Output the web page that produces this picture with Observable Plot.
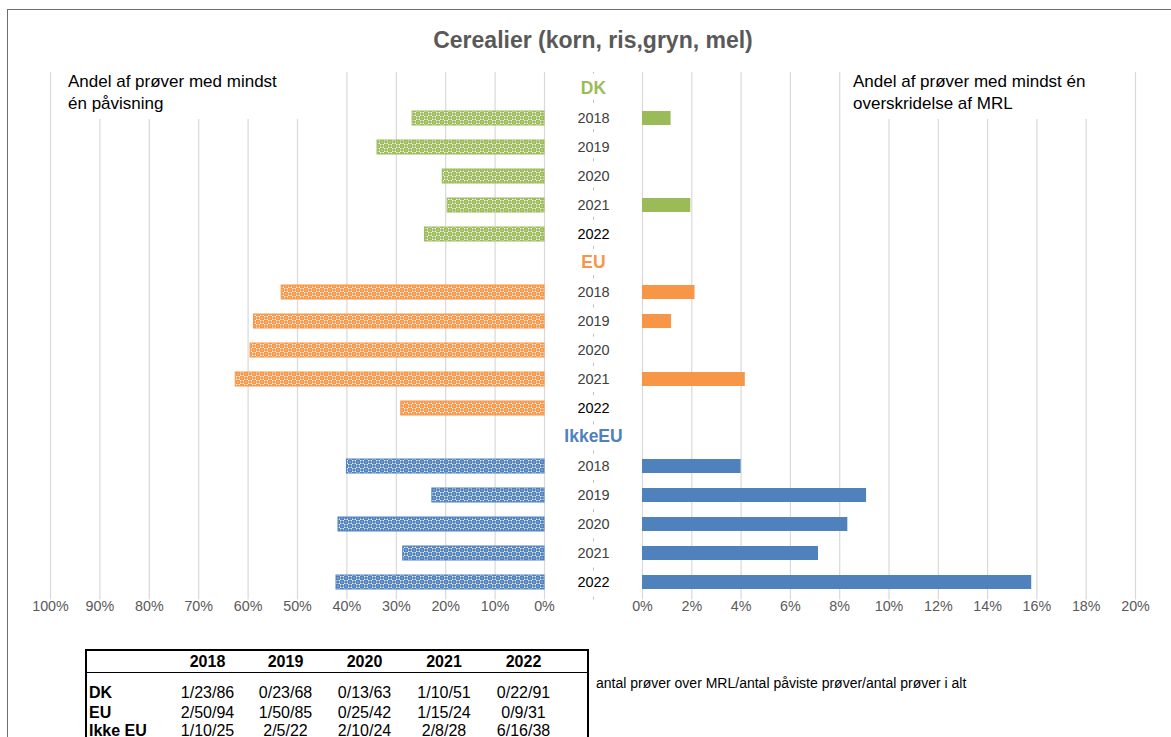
<!DOCTYPE html>
<html><head><meta charset="utf-8">
<script src="https://cdn.jsdelivr.net/npm/d3@7"></script>
<script src="https://cdn.jsdelivr.net/npm/@observablehq/plot@0.6"></script>
<style>
body{margin:0;background:#fff;font-family:"Liberation Sans",Arial,sans-serif;}
#wrap{position:relative;width:1171px;height:737px;overflow:hidden;background:#fff;}
#frame{position:absolute;left:7px;top:9px;width:1200px;height:800px;border-top:1px solid #6e6e6e;border-left:1px solid #6e6e6e;}
#left{position:absolute;left:0;top:0;}
#right{position:absolute;left:580px;top:0;}
#title{position:absolute;left:593px;top:26px;transform:translateX(-50%);white-space:nowrap;font-weight:bold;font-size:23px;line-height:28px;color:#595959;z-index:3;}
.note{position:absolute;background:#fff;font-size:17px;line-height:21.5px;color:#000;z-index:3;padding-left:8px;padding-top:4px;box-sizing:border-box;}
#noteL{left:60px;top:67px;width:252px;height:52px;}
#noteR{left:845px;top:67px;width:265px;height:52px;}
#tbl{position:absolute;left:85px;top:649px;z-index:3;}
#tbl table{border-collapse:collapse;border:2px solid #000;font-size:16px;color:#000;}
#tbl td{padding:0;text-align:center;vertical-align:bottom;white-space:nowrap;}
#tbl tr.h td{font-weight:bold;height:20px;border-bottom:1.5px solid #000;padding-bottom:1px;}
#tbl td.lab{text-align:left;font-weight:bold;padding-left:2px;}
#cap{position:absolute;left:596px;top:675px;font-size:14px;color:#000;white-space:nowrap;z-index:3;}
</style></head><body>
<div id="wrap">
  <div id="frame"></div>
  <div id="left"></div>
  <div id="right"></div>
  <div id="title">Cerealier (korn, ris,gryn, mel)</div>
  <div class="note" id="noteL">Andel af prøver med mindst<br>én påvisning</div>
  <div class="note" id="noteR">Andel af prøver med mindst én<br>overskridelse af MRL</div>
  <div id="tbl"></div>
  <div id="cap">antal prøver over MRL/antal påviste prøver/antal prøver i alt</div>
</div>
<script>
// ---- data ----
const years = ["2018", "2019", "2020", "2021", "2022"];
const regions = ["DK", "EU", "IkkeEU"];
const regionColors = ["#9BBB59", "#F79646", "#4F81BD"];
// share of samples with at least one detection
const detectDK = [0.267, 0.338, 0.206, 0.196, 0.242];
const detectEU = [0.532, 0.588, 0.595, 0.625, 0.290];
const detectIkkeEU = [0.400, 0.227, 0.417, 0.286, 0.421];
// share of samples with at least one MRL exceedance
const mrlDK = [0.0116, 0, 0, 0.0196, 0];
const mrlEU = [0.0213, 0.0118, 0, 0.0417, 0];
const mrlIkkeEU = [0.040, 0.0909, 0.0833, 0.0714, 0.1579];
const leftTicks = [0, 0.1, 0.2, 0.3, 0.4, 0.5, 0.6, 0.7, 0.8, 0.9, 1.0];
const rightTicks = [0, 0.02, 0.04, 0.06, 0.08, 0.10, 0.12, 0.14, 0.16, 0.18, 0.20];
// table
const tableHeader = ["", "2018", "2019", "2020", "2021", "2022"];
const tableLabels = ["DK", "EU", "Ikke EU"];
const tableDK = ["1/23/86", "0/23/68", "0/13/63", "1/10/51", "0/22/91"];
const tableEU = ["2/50/94", "1/50/85", "0/25/42", "1/15/24", "0/9/31"];
const tableIkkeEU = ["1/10/25", "2/5/22", "2/10/24", "2/8/28", "6/16/38"];

// ---- derived ----
const rowKeys = [];
regions.forEach(r => { rowKeys.push(r); years.forEach(y => rowKeys.push(r + " " + y)); });
const detect = [detectDK, detectEU, detectIkkeEU];
const mrl = [mrlDK, mrlEU, mrlIkkeEU];
const rowsFor = (arr, r) => years.map((y, i) => ({key: r + " " + y, year: y, v: arr[i]}));

const pct = d => Math.round(d * 100) + "%";
const yScale = {domain: rowKeys, paddingInner: 0.52, paddingOuter: 0.26, axis: null};
const common = {height: 625, marginTop: 72, marginBottom: 25.5,
  style: {fontFamily: "Liberation Sans, Arial, sans-serif", fontSize: "14.3px", color: "#595959", background: "transparent", overflow: "visible"}};

const leftMarks = [Plot.ruleX(leftTicks, {stroke: "#d9d9d9", strokeWidth: 1.2})];
regions.forEach((r, k) => {
  leftMarks.push(Plot.barX(rowsFor(detect[k], r), {x1: 0, x2: "v", y: "key", fill: `url(#pat${r})`, stroke: regionColors[k], strokeWidth: 1}));
});
const leftPlot = Plot.plot({...common, width: 580, marginLeft: 50, marginRight: 36,
  x: {domain: [1, 0], ticks: leftTicks, tickFormat: pct, tickSize: 0, tickPadding: 1, label: null},
  y: yScale, marks: leftMarks});

const rightMarks = [Plot.ruleX(rightTicks, {stroke: "#d9d9d9", strokeWidth: 1.2}),
  Plot.ruleX([0], {dx: -49, stroke: "#bfbfbf", strokeDasharray: "3,26.24", strokeDashoffset: 1.5})];
regions.forEach((r, k) => {
  rightMarks.push(Plot.barX(rowsFor(mrl[k], r).filter(d => d.v > 0), {x1: 0, x2: "v", y: "key", fill: regionColors[k]}));
  rightMarks.push(Plot.text([r], {y: d => d, text: d => d, frameAnchor: "left", dx: -49, dy: -1, textAnchor: "middle", fill: regionColors[k], fontWeight: "bold", fontSize: 17.5}));
  rightMarks.push(Plot.text(rowsFor(mrl[k], r).filter(d => d.year !== "2022"), {y: "key", text: "year", frameAnchor: "left", dx: -49, textAnchor: "middle", fill: "#404040", fontSize: 14.5}));
  rightMarks.push(Plot.text(rowsFor(mrl[k], r).filter(d => d.year === "2022"), {y: "key", text: "year", frameAnchor: "left", dx: -49, textAnchor: "middle", fill: "#000", fontSize: 14.5}));
});
const rightPlot = Plot.plot({...common, width: 591, marginLeft: 62, marginRight: 36,
  x: {domain: [0, 0.2], ticks: rightTicks, tickFormat: pct, tickSize: 0, tickPadding: 1, label: null},
  y: yScale, marks: rightMarks});

// patterns for the left (detection) bars
const svgL = leftPlot.tagName.toLowerCase() === "svg" ? leftPlot : leftPlot.querySelector("svg");
const defs = document.createElementNS("http://www.w3.org/2000/svg", "defs");
defs.innerHTML = regions.map((r, k) => {
  const c = regionColors[k];
  return `<pattern id="pat${r}" width="8" height="8" patternUnits="userSpaceOnUse">
    <rect width="8" height="8" fill="#fff"/>
    <rect x="0" y="0" width="4" height="4" fill="${c}"/>
    <rect x="4" y="4" width="4" height="4" fill="${c}"/>
    <circle cx="6" cy="2" r="1.8" fill="${c}"/>
    <circle cx="2" cy="6" r="1.8" fill="${c}"/>
    <circle cx="2" cy="2" r="0.8" fill="#fff" fill-opacity="0.5"/>
    <circle cx="6" cy="6" r="0.8" fill="#fff" fill-opacity="0.5"/>
  </pattern>`;
}).join("");
svgL.insertBefore(defs, svgL.firstChild);

document.getElementById("left").appendChild(leftPlot);
document.getElementById("right").appendChild(rightPlot);

// table
const tableData = [tableDK, tableEU, tableIkkeEU];
const colW = [83, 77, 79, 79, 80, 104];
let html = "<table><colgroup>" + colW.map(w => `<col style="width:${w}px">`).join("") + "</colgroup>";
html += '<tr class="h">' + tableHeader.map((h, i) => `<td${i === 5 ? ' style="padding-right:24px"' : ''}>${h}</td>`).join("") + "</tr>";
const rowH = [29, 20, 19];
tableLabels.forEach((lab, r) => {
  html += `<tr style="height:${rowH[r]}px"><td class="lab">${lab}</td>` +
    tableData[r].map((v, i) => `<td${i === 4 ? ' style="padding-right:24px"' : ''}>${v}</td>`).join("") + "</tr>";
});
html += "</table>";
document.getElementById("tbl").innerHTML = html;
</script>
</body></html>
